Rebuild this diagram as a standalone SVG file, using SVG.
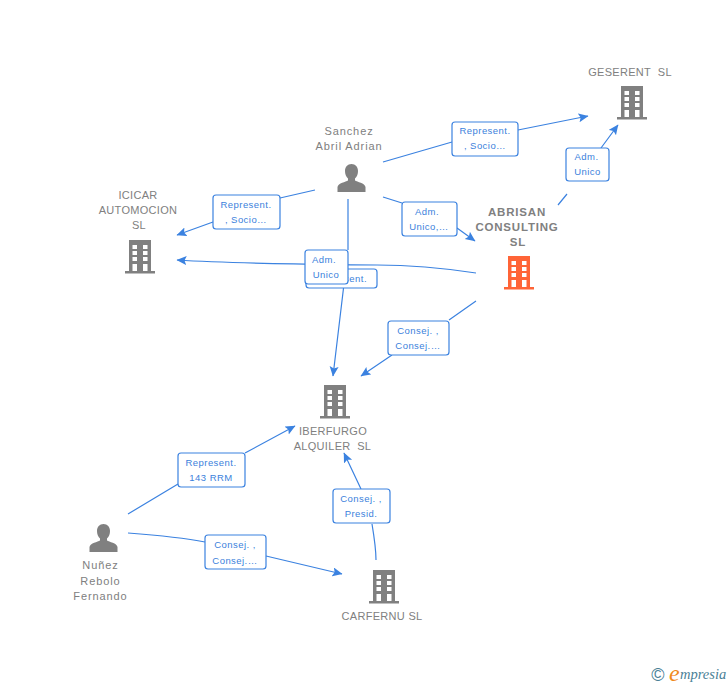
<svg xmlns="http://www.w3.org/2000/svg" width="728" height="685" viewBox="0 0 728 685">
<style>
text{font-family:"Liberation Sans",Arial,sans-serif}
.n{font-size:11px;fill:#808080;text-anchor:middle;letter-spacing:.3px}
.m{letter-spacing:.9px}
.b{font-weight:bold;font-size:11.5px;letter-spacing:.8px}
.c{fill:none;stroke:#3b82e0;stroke-width:1.2}
.box{fill:#fff;stroke:#3b82e0;stroke-width:1.2}
.l{font-size:9.500px;fill:#3b7fdc;text-anchor:middle;letter-spacing:.45px}
.bg{fill:#808080}.bo{fill:#ff6437}.w{fill:#fff}
</style>
<defs>
<marker id="a" markerWidth="11" markerHeight="10" refX="9.500" refY="4.500" orient="auto" markerUnits="userSpaceOnUse"><path d="M0 0L10 4.500L0 9L2 4.500Z" fill="#3b82e0"/></marker>
<g id="bw">
<rect class="w" x="4.500" y="5" width="4.500" height="4"/><rect class="w" x="15" y="5" width="4.500" height="4"/>
<rect class="w" x="4.500" y="11" width="4.500" height="4"/><rect class="w" x="15" y="11" width="4.500" height="4"/>
<rect class="w" x="4.500" y="17" width="4.500" height="4"/><rect class="w" x="15" y="17" width="4.500" height="4"/>
<rect class="w" x="4.500" y="24" width="4.500" height="7"/><rect class="w" x="15" y="24" width="4.500" height="7"/>
</g>
<path id="bd" d="M1 0H23V31H27V33.500H-3V31H1Z"/>
<path id="p" d="M14 0C18 0 20.500 3 20.500 7C20.500 10 19.500 12.500 17.500 14.500V16.500C19.500 18 27.500 19 28 23V28H0V23C.5 19 8.500 18 10.500 16.500V14.500C8.500 12.500 7.500 10 7.500 7C7.500 3 10 0 14 0Z" fill="#808080"/>
</defs>
<g id="connectors">
<path class="c" marker-end="url(#a)" d="M383 162L452 142M518 130L588 116"/>
<path class="c" marker-end="url(#a)" d="M558 205L567 194M601 148L618 125"/>
<path class="c" marker-end="url(#a)" d="M383 197L402 203M457 228L475 241"/>
<path class="c" marker-end="url(#a)" d="M315 190L280 198M213 222L177 235"/>
<path class="c" marker-end="url(#a)" d="M476 273C430 266 400 265 377 265C300 264 240 264 177 260"/>
<path class="c" marker-end="url(#a)" d="M348 199V250M344 284L333 376"/>
<path class="c" marker-end="url(#a)" d="M476 301L449 320M392 355L361 376"/>
<path class="c" marker-end="url(#a)" d="M128 514L178 484M245 453L295 426"/>
<path class="c" marker-end="url(#a)" d="M128 533C155 535 180 537 205 542M266 556L342 574"/>
<path class="c" marker-end="url(#a)" d="M376 560C376 548 374 536 372 524M361 489L344 453"/>
<rect class="box" x="452" y="122" width="66" height="34" rx="3"/>
<text class="l" x="485" y="134">Represent.</text><text class="l" x="485" y="149">, Socio…</text>
<rect class="box" x="566" y="148" width="43" height="33" rx="3"/>
<text class="l" x="586.500" y="160">Adm.</text><text class="l" x="587.500" y="175">Unico</text>
<rect class="box" x="402" y="202" width="55" height="34" rx="3"/>
<text class="l" x="427" y="215">Adm.</text><text class="l" x="429" y="230">Unico,…</text>
<rect class="box" x="213" y="195" width="67" height="34" rx="3"/>
<text class="l" x="246" y="208">Represent.</text><text class="l" x="246" y="223">, Socio…</text>
<rect class="box" x="306" y="269" width="71" height="19" rx="3"/>
<text class="l" x="341.500" y="282">Represent.</text>
<rect class="box" x="305" y="250" width="43" height="34" rx="3"/>
<text class="l" x="324" y="263">Adm.</text><text class="l" x="326" y="278">Unico</text>
<rect class="box" x="388" y="321" width="61" height="34" rx="3"/>
<text class="l" x="418" y="334">Consej. ,</text><text class="l" x="418" y="349">Consej.…</text>
<rect class="box" x="178" y="453" width="67" height="34" rx="3"/>
<text class="l" x="211" y="466">Represent.</text><text class="l" x="211" y="481">143 RRM</text>
<rect class="box" x="205" y="535" width="61" height="34" rx="3"/>
<text class="l" x="235" y="548">Consej. ,</text><text class="l" x="235" y="564">Consej.…</text>
<rect class="box" x="333" y="489" width="57" height="34" rx="3"/>
<text class="l" x="361" y="502">Consej. ,</text><text class="l" x="361" y="517">Presid.</text>
</g>
<g id="geserent"><text class="n" x="630" y="76">GESERENT&#160; SL</text>
<use href="#bd" class="bg" x="620" y="86"/><use href="#bw" x="620" y="86"/></g>
<g id="sanchez"><text class="n m" x="349" y="135">Sanchez</text><text class="n m" x="349" y="150">Abril Adrian</text>
<use href="#p" x="337.500" y="164"/></g>
<g id="icicar"><text class="n" x="138" y="199">ICICAR</text><text class="n" x="138" y="214">AUTOMOCION</text><text class="n" x="139" y="229">SL</text>
<use href="#bd" class="bg" x="128" y="240"/><use href="#bw" x="128" y="240"/></g>
<g id="abrisan"><text class="n b" x="517" y="216">ABRISAN</text><text class="n b" x="517" y="231">CONSULTING</text><text class="n b" x="518" y="246">SL</text>
<use href="#bd" class="bo" x="507" y="256"/><use href="#bw" x="507" y="256"/></g>
<g id="iberfurgo"><use href="#bd" class="bg" x="323" y="385"/><use href="#bw" x="323" y="385"/>
<text class="n" x="333" y="435">IBERFURGO</text><text class="n" x="332.500" y="450">ALQUILER&#160; SL</text></g>
<g id="nunez"><use href="#p" x="89.500" y="524"/>
<text class="n m" x="100.500" y="569">Nuñez</text><text class="n m" x="100.500" y="585">Rebolo</text><text class="n m" x="100.500" y="600">Fernando</text></g>
<g id="carfernu"><use href="#bd" class="bg" x="372" y="570"/><use href="#bw" x="372" y="570"/>
<text class="n" x="382" y="620">CARFERNU SL</text></g>
<g id="logo"><text x="658" y="681" font-size="18" fill="#4a7f96" text-anchor="middle">©</text>
<text x="669" y="681" font-size="24" font-style="italic" fill="#f08a1d" style="font-family:'Liberation Serif',serif">e</text>
<text x="680" y="679" font-size="14.500" font-style="italic" fill="#4a7f96" style="font-family:'Liberation Serif',serif">mpresia</text></g>
</svg>
